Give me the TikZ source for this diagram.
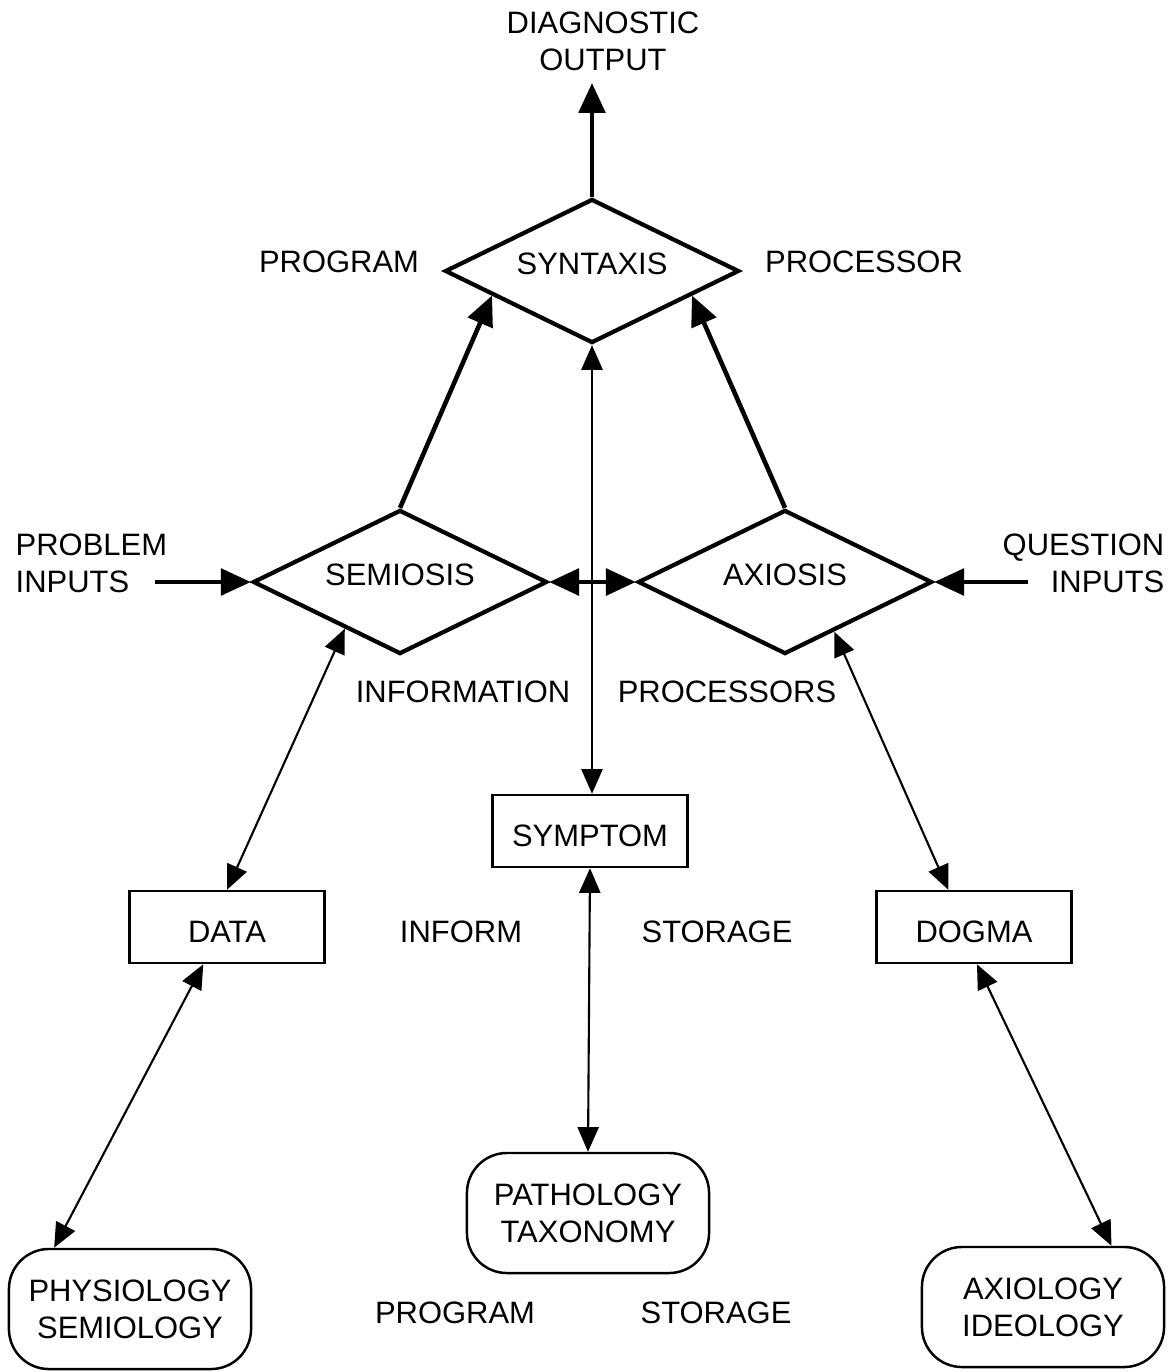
\documentclass[tikz,border=0pt]{standalone}
\usepackage{fontspec}
\setmainfont{Liberation Sans}
\usetikzlibrary{shapes.geometric,arrows.meta,calc}

\tikzset{
  lbl/.style={font=\fontsize{8.8}{10.5}\selectfont, align=center, inner sep=0pt},
  proc/.style={lbl, draw, diamond, aspect=2, line width=1.2pt, minimum width=2.94cm, minimum height=1.44cm, text depth=4pt},
  store/.style={lbl, draw, line width=0.7pt, minimum width=1.95cm, minimum height=0.72cm, text height=9pt},
  base/.style={lbl, draw, line width=0.7pt, rounded corners=0.4cm, minimum width=2.42cm, minimum height=1.2cm},
  thickarr/.style={line width=1.3pt, -{Triangle[length=8.5pt,width=7.5pt]}},
  thicklink/.style={line width=1.4pt, {Triangle[length=8.5pt,width=7.5pt]}-{Triangle[length=8.5pt,width=7.5pt]}},
  link/.style={line width=0.6pt, {Triangle[length=7pt,width=6pt]}-{Triangle[length=7pt,width=6pt]}},
}

\begin{document}
\begin{tikzpicture}[x=0.01cm,y=-0.01cm]
  \useasboundingbox (0,0) rectangle (1173,1372);
  % processors
  \node[proc] (syn) at (592,271) {SYNTAXIS};
  \node[proc] (sem) at (400,582) {SEMIOSIS};
  \node[proc] (axi) at (785,582) {AXIOSIS};
  % stores
  \node[store] (sym) at (590,831) {SYMPTOM};
  \node[store] (data) at (227,927) {DATA};
  \node[store] (dogma) at (974,927) {DOGMA};
  \node[base] (patho) at (588,1213) {PATHOLOGY\\TAXONOMY};
  \node[base] (physio) at (130,1309) {PHYSIOLOGY\\SEMIOLOGY};
  \node[base] (axio) at (1043,1307) {AXIOLOGY\\IDEOLOGY};
  % labels
  \node[lbl] (out) at (603,41) {DIAGNOSTIC\\OUTPUT};
  \node[lbl] (prog1) at (339,262) {PROGRAM};
  \node[lbl] (proc1) at (864,262) {PROCESSOR};
  \node[lbl, align=left, anchor=west] (prob) at (15,563) {PROBLEM\\INPUTS};
  \node[lbl, align=right, anchor=east] (ques) at (1165,563) {QUESTION\\INPUTS};
  \node[lbl] (info) at (463,692) {INFORMATION};
  \node[lbl] (procs) at (727,692) {PROCESSORS};
  \node[lbl] (inform) at (461,932) {INFORM};
  \node[lbl] (stor1) at (717,932) {STORAGE};
  \node[lbl] (prog2) at (455,1313) {PROGRAM};
  \node[lbl] (stor2) at (716,1313) {STORAGE};
  \coordinate (probend) at (155,582);
  \coordinate (quesend) at (1028,582);
  % thick arrows
  \draw[thickarr, shorten >=3.4pt] (syn.north) -- (syn.north |- out.south);
  \draw[thickarr] (sem.north) -- ($(syn.west)!0.33!(syn.south)$);
  \draw[thickarr] (axi.north) -- ($(syn.east)!0.33!(syn.south)$);
  \draw[thickarr] (probend) -- (sem.west);
  \draw[thickarr] (quesend) -- (axi.east);
  \draw[thicklink] (sem.east) -- (axi.west);
  % thin two-way links
  \draw[link] (syn.south) -- (syn.south |- sym.north);
  \draw[link] ($(sem.west)!0.63!(sem.south)$) -- (data.north);
  \draw[link] ($(data.south west)!0.38!(data.south east)$) -- ($(physio.north west)!0.19!(physio.north east)$);
  \draw[link] (sym.south) -- (patho.north);
  \draw[link] ($(axi.east)!0.67!(axi.south)$) -- ($(dogma.north west)!0.37!(dogma.north east)$);
  \draw[link] ($(dogma.south west)!0.515!(dogma.south east)$) -- ($(axio.north west)!0.78!(axio.north east)$);
\end{tikzpicture}
\end{document}
